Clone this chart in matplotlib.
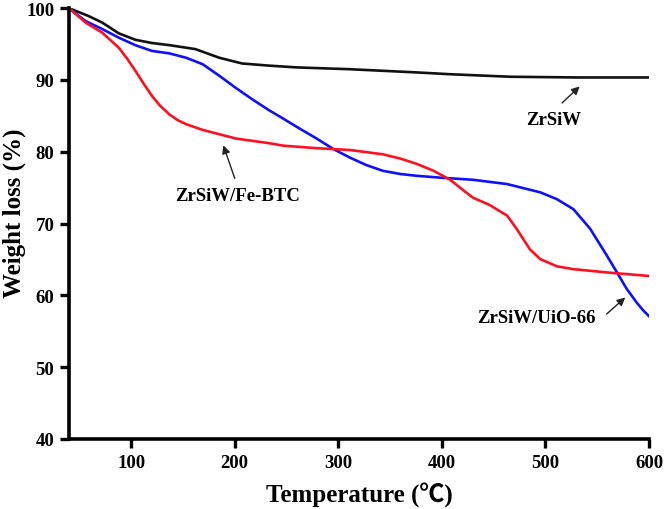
import matplotlib
matplotlib.use("Agg")
import matplotlib.pyplot as plt

# TGA data
t_zrsiw = [40, 59, 72, 88, 104, 120, 137, 162, 185, 207, 233, 260, 311, 376, 408, 466, 531, 600]
w_zrsiw = [100.0, 98.9, 98.0, 96.5, 95.6, 95.15, 94.85, 94.3, 93.1, 92.3, 92.0, 91.75, 91.5, 91.05, 90.8, 90.45, 90.35, 90.35]

t_uio = [40, 56, 72, 88, 104, 120, 137, 153, 169, 185, 201, 217, 233, 247, 263, 279, 295, 311,
         327, 343, 360, 376, 398, 430, 463, 495, 511, 527, 543, 559, 569, 578, 588, 595, 600]
w_uio = [100.0, 98.2, 97.1, 95.9, 94.85, 94.05, 93.7, 93.1, 92.2, 90.6, 88.9, 87.3, 85.8, 84.6,
         83.2, 81.85, 80.4, 79.2, 78.15, 77.35, 76.9, 76.65, 76.4, 76.1, 75.5, 74.35, 73.4, 72.0,
         69.3, 65.6, 63.2, 61.0, 59.0, 57.8, 57.1]

t_fe = [40, 56, 72, 88, 96, 104, 112, 120, 128, 137, 145, 153, 169, 185, 201, 233, 247, 279, 311,
        343, 360, 376, 392, 408, 421, 430, 446, 463, 472, 485, 495, 511, 527, 559, 600]
w_fe = [100.0, 98.0, 96.6, 94.5, 93.0, 91.3, 89.5, 87.8, 86.4, 85.2, 84.4, 83.85, 83.05, 82.45,
        81.85, 81.2, 80.85, 80.5, 80.25, 79.65, 79.05, 78.3, 77.35, 76.1, 74.6, 73.6, 72.6, 71.1,
        69.3, 66.4, 65.05, 64.05, 63.65, 63.2, 62.7]

x_ticks = [100, 200, 300, 400, 500, 600]
y_ticks = [40, 50, 60, 70, 80, 90, 100]

plt.rcParams['font.family'] = ['Liberation Serif', 'Noto Sans CJK SC']
plt.rcParams['font.weight'] = 'bold'

fig = plt.figure(figsize=(6.66, 5.10), dpi=100)
ax = fig.add_axes([0.1036, 0.1373, 0.871, 0.8447])

ax.plot(t_zrsiw, w_zrsiw, color='#111111', lw=1.9)
ax.plot(t_uio, w_uio, color='#1010ff', lw=1.9)
ax.plot(t_fe, w_fe, color='#ff1020', lw=1.9)

ax.set_xlim(40, 600)
ax.set_ylim(40, 100)
ax.set_xticks(x_ticks)
ax.set_yticks(y_ticks)

for side in ['top', 'right']:
    ax.spines[side].set_visible(False)
for side in ['left', 'bottom']:
    ax.spines[side].set_linewidth(2.6)
ax.tick_params(direction='out', length=6.5, width=2.4, labelsize=13.5, pad=4)
for lab in ax.get_xticklabels() + ax.get_yticklabels():
    lab.set_fontweight('bold')

ax.set_xlabel('Temperature (\u2103)', fontsize=18, fontweight='bold')
ax.xaxis.label.set_va('center')
ax.xaxis.set_label_coords(0.5, -0.128)
ax.set_ylabel('Weight loss (%)', fontsize=18, fontweight='bold', family='Liberation Serif')
ax.yaxis.label.set_va('center')
ax.yaxis.set_label_coords(-0.095, 0.527)

arrow = dict(arrowstyle='-|>', color='#222222', lw=1.0, mutation_scale=12, shrinkA=0, shrinkB=0)
ax.annotate('', xy=(533, 89.1), xytext=(516, 86.8), arrowprops=arrow)
ax.text(508, 84.55, 'ZrSiW', fontsize=13.5, fontweight='bold', ha='center', va='center')

ax.annotate('', xy=(189, 80.9), xytext=(200, 76.3), arrowprops=arrow)
ax.text(203, 73.9, 'ZrSiW/Fe-BTC', fontsize=13.5, fontweight='bold', ha='center', va='center')

ax.annotate('', xy=(577, 59.7), xytext=(559, 57.4), arrowprops=arrow)
ax.text(491.5, 56.9, 'ZrSiW/UiO-66', fontsize=13.5, fontweight='bold', ha='center', va='center')

fig.savefig('out.png', dpi=100)
